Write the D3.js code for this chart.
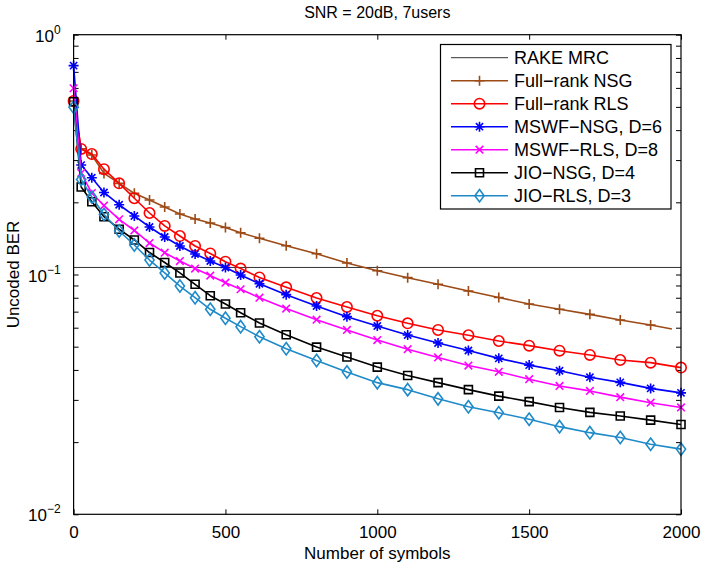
<!DOCTYPE html>
<html><head><meta charset="utf-8">
<script src="https://cdn.jsdelivr.net/npm/d3@7"></script>
<style>
html,body{margin:0;padding:0;background:#fff;}
text{font-family:"Liberation Sans",Arial,Helvetica,sans-serif;fill:#000;}
</style></head>
<body>
<svg id="chart" width="701" height="568"></svg>
<script>
const titleText = "SNR = 20dB, 7users";
const xLabel = "Number of symbols";
const yLabel = "Uncoded BER";
const xTicks = [0, 500, 1000, 1500, 2000];
const yMajor = [1, 0.1, 0.01];
const yMajorLabels = ["0", "\u22121", "\u22122"];
const symbols = [0,25,60,100,150,200,250,300,350,400,450,500,550,612,700,800,900,1000,1100,1200,1300,1400,1500,1600,1700,1800,1900,2000];
const symbolsNSG = [0,25,60,100,150,200,250,300,350,400,450,500,550,612,700,800,900,1000,1100,1200,1300,1400,1500,1600,1700,1800,1900,1970];
const rakeMrc = 0.107;
const fullNSG = [0.529,0.334,0.315,0.264,0.240,0.218,0.2045,0.1912,0.1788,0.1704,0.1640,0.157,0.1494,0.1416,0.1317,0.1220,0.1117,0.1037,0.0970,0.0911,0.0853,0.0802,0.0753,0.0716,0.0682,0.0646,0.0616,0.0593];
const fullRLS = [0.529,0.334,0.318,0.275,0.240,0.208,0.1805,0.1594,0.1447,0.1315,0.1224,0.1131,0.1059,0.0972,0.0884,0.0798,0.0732,0.0673,0.0626,0.0587,0.0558,0.0528,0.0505,0.0481,0.0462,0.0440,0.0429,0.0409];
const mswfNSG = [0.743,0.286,0.2533,0.2198,0.1954,0.1754,0.1578,0.1433,0.1315,0.1217,0.1138,0.1069,0.0995,0.0915,0.0824,0.0739,0.0667,0.0610,0.0559,0.0518,0.0482,0.0447,0.0419,0.0397,0.0373,0.0355,0.0335,0.0321];
const mswfRLS = [0.598,0.265,0.2187,0.1939,0.1699,0.1526,0.1353,0.1233,0.1138,0.1059,0.0990,0.0924,0.0868,0.0800,0.0721,0.0648,0.0587,0.0533,0.0488,0.0451,0.0417,0.0393,0.0366,0.0343,0.0327,0.0308,0.0292,0.0279];
const jioNSG = [0.5255,0.2317,0.2011,0.1742,0.1545,0.1393,0.1235,0.1122,0.1015,0.0910,0.0816,0.0753,0.0693,0.0628,0.0561,0.0498,0.0453,0.0411,0.0379,0.0354,0.0331,0.0311,0.0295,0.0279,0.0266,0.0257,0.0247,0.0237];
const jioRLS = [0.498,0.2489,0.2104,0.1779,0.1518,0.1327,0.1149,0.1015,0.0895,0.0800,0.0716,0.0657,0.0606,0.0550,0.0490,0.0438,0.0392,0.0354,0.0331,0.0303,0.0281,0.0265,0.0249,0.0232,0.0219,0.0209,0.0196,0.0187];

const seriesNames = ["RAKE MRC","Full\u2212rank NSG","Full\u2212rank RLS","MSWF\u2212NSG, D=6","MSWF\u2212RLS, D=8","JIO\u2212NSG, D=4","JIO\u2212RLS, D=3"];
const seriesColors = ["#333333","#9c4a16","#ff0000","#0000ff","#ff00ff","#000000","#1f8ac9"];
const seriesMarkers = ["none","plus","circle","asterisk","x","square","diamond"];

const series = [
  {name:seriesNames[0], color:seriesColors[0], marker:seriesMarkers[0], xs:[0,2000], ys:[rakeMrc,rakeMrc], noMarkLast:false, width:1},
  {name:seriesNames[1], color:seriesColors[1], marker:seriesMarkers[1], xs:symbolsNSG, ys:fullNSG, noMarkLast:true, width:1.6},
  {name:seriesNames[2], color:seriesColors[2], marker:seriesMarkers[2], xs:symbols, ys:fullRLS, noMarkLast:false, width:1.6},
  {name:seriesNames[3], color:seriesColors[3], marker:seriesMarkers[3], xs:symbols, ys:mswfNSG, noMarkLast:false, width:1.6},
  {name:seriesNames[4], color:seriesColors[4], marker:seriesMarkers[4], xs:symbols, ys:mswfRLS, noMarkLast:false, width:1.6},
  {name:seriesNames[5], color:seriesColors[5], marker:seriesMarkers[5], xs:symbols, ys:jioNSG, noMarkLast:false, width:1.6},
  {name:seriesNames[6], color:seriesColors[6], marker:seriesMarkers[6], xs:symbols, ys:jioRLS, noMarkLast:false, width:1.6}
];

const svg = d3.select("#chart");
const L = 73.6, R = 681, T = 34.7, B = 514.3;
const x = d3.scaleLinear().domain([0,2000]).range([L,R]);
const y = d3.scaleLog().domain([0.01,1]).range([B,T]);

svg.append("rect").attr("width",701).attr("height",568).attr("fill","#fff");

const markerPath = {
  plus: "M-5,0H5M0,-5V5",
  x: "M-3.8,-3.8L3.8,3.8M-3.8,3.8L3.8,-3.8",
  asterisk: "M-5,0H5M0,-5V5M-3.6,-3.6L3.6,3.6M-3.6,3.6L3.6,-3.6",
  square: "M-4,-4H4V4H-4Z",
  diamond: "M0,-6.2L4.6,0L0,6.2L-4.6,0Z"
};
function drawMarker(g, type, color, cx, cy){
  if(type==="none") return;
  if(type==="circle"){
    g.append("circle").attr("cx",cx).attr("cy",cy).attr("r",5.2)
      .attr("fill","none").attr("stroke",color).attr("stroke-width",1.6);
  } else {
    g.append("path").attr("d",markerPath[type]).attr("transform",`translate(${cx},${cy})`)
      .attr("fill","none").attr("stroke",color).attr("stroke-width",1.6);
  }
}

// ticks and axes
const xBottom = d3.axisBottom(x).tickValues(xTicks).tickSize(-5).tickPadding(12).tickFormat(d3.format("d"));
const xTop = d3.axisTop(x).tickValues(xTicks).tickSize(-5).tickFormat("");
const yMinor = [];
[0.01,0.1].forEach(b=>{for(let k=2;k<=9;k++) yMinor.push(b*k);});
const yAll = yMajor.concat(yMinor);
const yLeft = d3.axisLeft(y).tickValues(yAll).tickSize(-5).tickFormat("");
const yRight = d3.axisRight(y).tickValues(yAll).tickSize(-5).tickFormat("");

function styleAxis(g){
  g.select(".domain").remove();
  g.selectAll(".tick line").attr("stroke","#000").attr("stroke-width",1);
}
const gxb = svg.append("g").attr("transform",`translate(0,${B})`).call(xBottom); styleAxis(gxb);
gxb.selectAll("text").attr("font-size",17).attr("fill","#000").style("font-family",'"Liberation Sans",Arial,sans-serif');
const gxt = svg.append("g").attr("transform",`translate(0,${T})`).call(xTop); styleAxis(gxt);
const gyl = svg.append("g").attr("transform",`translate(${L},0)`).call(yLeft); styleAxis(gyl);
const gyr = svg.append("g").attr("transform",`translate(${R},0)`).call(yRight); styleAxis(gyr);

// y major labels as 10^n
yMajor.forEach((v,i)=>{
  const t = svg.append("text").attr("x",L-13).attr("y",y(v)+7).attr("text-anchor","end").attr("font-size",17);
  t.append("tspan").text("10");
  t.append("tspan").attr("dy",-8).attr("font-size",12).text(yMajorLabels[i]);
});

// plot lines
const plot = svg.append("g");
series.forEach(s=>{
  const pts = s.xs.map((xv,i)=>[x(xv), y(s.ys[i])]);
  plot.append("path").attr("d",d3.line()(pts)).attr("fill","none")
    .attr("stroke",s.color).attr("stroke-width",s.width).attr("stroke-linejoin","round");
  const mg = plot.append("g");
  pts.forEach((p,i)=>{
    if(s.noMarkLast && i===pts.length-1) return;
    drawMarker(mg, s.marker, s.color, p[0], p[1]);
  });
});

// box
svg.append("rect").attr("x",L).attr("y",T).attr("width",R-L).attr("height",B-T)
  .attr("fill","none").attr("stroke","#000").attr("stroke-width",1.2);

// legend
const lg = svg.append("g");
lg.append("rect").attr("x",440.5).attr("y",44.5).attr("width",230.5).attr("height",164.5)
  .attr("fill","#fff").attr("stroke","#000").attr("stroke-width",1.2);
series.forEach((s,i)=>{
  const cy = 57.7 + i*23;
  lg.append("line").attr("x1",451).attr("x2",508).attr("y1",cy).attr("y2",cy)
    .attr("stroke",s.color).attr("stroke-width",s.width);
  drawMarker(lg, s.marker, s.color, 479.5, cy);
  lg.append("text").attr("x",514).attr("y",cy+6.5).attr("font-size",18).text(s.name);
});

// titles
svg.append("text").attr("x",(L+R)/2).attr("y",18).attr("text-anchor","middle").attr("font-size",16).text(titleText);
svg.append("text").attr("x",(L+R)/2).attr("y",559).attr("text-anchor","middle").attr("font-size",17).text(xLabel);
svg.append("text").attr("transform",`translate(19,${(T+B)/2}) rotate(-90)`).attr("text-anchor","middle").attr("font-size",17).text(yLabel);
</script>
</body></html>
